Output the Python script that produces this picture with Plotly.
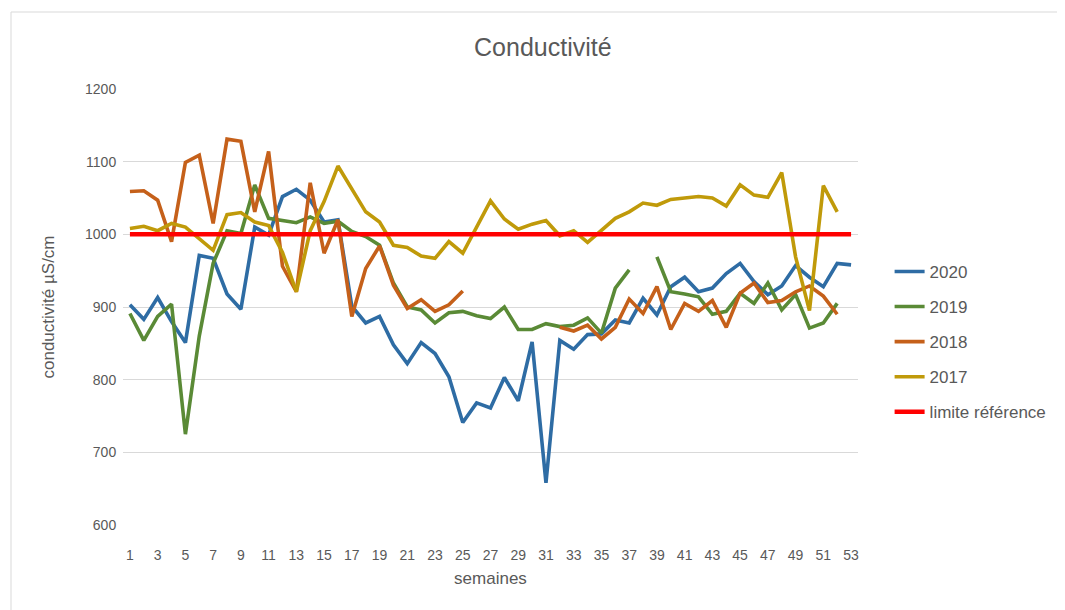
import plotly.graph_objects as go

# Weekly conductivity values (uS/cm)

weeks = list(range(1, 54))

values_2020 = [903, 883, 913, 880, 851, 971, 967, 918, 897, 1010,
               999, 1052, 1062, 1047, 1017, 1020, 901, 878, 887, 848,
               822, 851, 836, 804, 741, 768, 761, 803, 771, 852,
               658, 854, 842, 862, 863, 882, 878, 912, 889, 928,
               941, 921, 926, 946, 960, 935, 917, 929, 957, 941,
               928, 960, 958]

values_2019 = [891, 854, 887, 904, 725, 860, 960, 1005, 1001, 1068,
               1022, 1019, 1016, 1024, 1015, 1018, 1004, 997, 985, 933,
               900, 896, 878, 892, 894, 888, 884, 900, 869, 869,
               877, 873, 875, 885, 864, 926, 951, None, 969, 921,
               918, 914, 890, 894, 919, 905, 933, 896, 917, 871,
               878, 905]

values_2018 = [1059, 1060, 1047, 990, 1099, 1109, 1015, 1131, 1128, 1031,
               1114, 956, 921, 1071, 974, 1020, 887, 953, 984, 930,
               898, 910, 894, 903, 922, None, None, None, None, None,
               None, 872, 867, 875, 856, 872, 911, 891, 928, 869,
               905, 894, 909, 872, 919, 933, 906, 909, 921, 929,
               915, 890]

values_2017 = [1008, 1011, 1005, 1015, 1010, 994, 978, 1027, 1030, 1017,
               1012, 975, 921, 1005, 1045, 1094, 1062, 1031, 1017, 985,
               982, 970, 967, 990, 974, 1011, 1046, 1021, 1007, 1014,
               1019, 998, 1005, 989, 1006, 1022, 1031, 1043, 1040, 1048,
               1050, 1052, 1050, 1039, 1068, 1054, 1051, 1085, 969, 895,
               1067, 1031]

limite = [1000] * 53

series_names = ['2020', '2019', '2018', '2017', 'limite référence']
series_values = [values_2020, values_2019, values_2018, values_2017, limite]
series_colors = ['#2E6CA4', '#5A8A36', '#C5601A', '#C09A0A', '#FF0000']
series_widths = [3.6, 3.6, 3.6, 3.6, 4.5]

x_ticks = list(range(1, 54, 2))
y_ticks = list(range(600, 1201, 100))

# Building the traces

traces = []
for i in range(len(series_names)):
    values = series_values[i]
    traces.append(go.Scatter(x=weeks[:len(values)], y=values, mode='lines',
                             name=series_names[i], legendgroup=series_names[i],
                             line=dict(color=series_colors[i], width=series_widths[i]),
                             connectgaps=False))

# Layout (the page body adds 8px, so the figure is a bit smaller)

font_name = 'Liberation Sans'
grey = '#595959'

plot_left = 115
plot_top = 81
plot_w = 735
plot_h = 436

layout = go.Layout(
    width=1057, height=602,
    paper_bgcolor='white', plot_bgcolor='white',
    margin=dict(l=plot_left, r=1057 - plot_left - plot_w, t=plot_top, b=602 - plot_top - plot_h,
                autoexpand=False),
    font=dict(family=font_name, color=grey, size=14),
    title=dict(text='Conductivité', x=0.506, xref='container', xanchor='center',
               y=0.935, yanchor='middle', font=dict(size=25, color=grey, family=font_name)),
    xaxis=dict(range=[0.5, 53.5], tickvals=x_ticks, ticktext=[str(t) for t in x_ticks],
               showgrid=False, zeroline=False, showline=False,
               ticks='outside', ticklen=17, tickcolor='rgba(0,0,0,0)',
               title=dict(text='semaines', font=dict(size=17, color=grey), standoff=10),
               tickfont=dict(size=14, color=grey)),
    yaxis=dict(range=[600, 1200], tickvals=y_ticks, showgrid=True, gridcolor='#D9D9D9',
               gridwidth=1, zeroline=False, showline=False,
               ticks='outside', ticklen=3, tickcolor='rgba(0,0,0,0)',
               title=dict(text='conductivité µS/cm', font=dict(size=17, color=grey), standoff=26),
               tickfont=dict(size=14, color=grey)),
    legend=dict(x=1.043, y=0.42, xanchor='left', yanchor='middle', tracegroupgap=10,
                font=dict(size=17, color=grey), bgcolor='rgba(0,0,0,0)'),
    showlegend=True,
    shapes=[dict(type='rect', xref='paper', yref='paper',
                 x0=(3 - plot_left) / plot_w, x1=(1070 - plot_left) / plot_w,
                 y0=(plot_top + plot_h - 620) / plot_h, y1=(plot_top + plot_h - 4) / plot_h,
                 line=dict(color='#D9D9D9', width=1), layer='below')]
)

fig = go.Figure(data=traces, layout=layout)
fig.write_html('out.html')
